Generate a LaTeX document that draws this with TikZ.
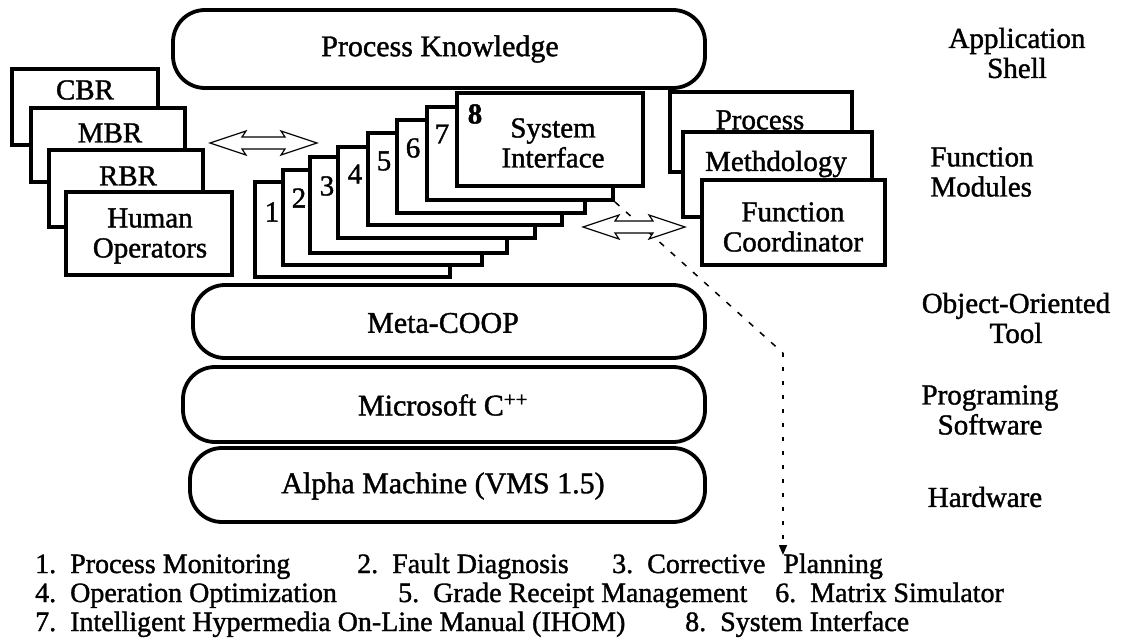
\documentclass[tikz,border=0pt]{standalone}
\usepackage{fontspec}
\setmainfont{Liberation Serif}[FakeBold=1.3]
\usetikzlibrary{fit,arrows.meta}
\tikzset{
  box/.style={draw, line width=3.8pt, fill=white, inner sep=0pt},
  pill/.style={draw, line width=3.8pt, rounded corners=32pt, inner sep=0pt},
  lbl/.style={inner sep=0pt, align=center, font=\fontsize{29}{30}\selectfont},
  plbl/.style={inner sep=0pt, align=center, font=\fontsize{30}{31}\selectfont},
  num/.style={inner sep=0pt, font=\fontsize{29}{30}\selectfont},
  leg/.style={inner sep=0pt, anchor=base west, font=\fontsize{28}{30}\selectfont},
  hollow/.style={draw, line width=1.2pt, fill=white},
  dashline/.style={line width=1.5pt, dash pattern=on 6pt off 9pt},
  dotline/.style={line width=1.5pt, dash pattern=on 4pt off 10pt},
}
\newcommand{\dblarrow}[3]{% x1, x2, y
  \draw[hollow] (#1,#3) -- ++(36,-12) -- ++(-4,6) -- (#2-32,#3-6) -- (#2-36,#3-12) -- (#2,#3)
    -- (#2-36,#3+12) -- (#2-32,#3+6) -- (#1+32,#3+6) -- (#1+36,#3+12) -- cycle;}
\begin{document}
\begin{tikzpicture}[x=1pt,y=-1pt]
\useasboundingbox (0,0) rectangle (1122,642);

% top application shell
\node[pill, fit={(173,10) (705,88)}] (pk) {};
\node[plbl] (pkt) at (440,49) {Process Knowledge};

% left stack
\node[box, fit={(12,69) (158,145)}] (cbr) {};
\node[lbl] (cbrt) at (85,90) {CBR};
\node[box, fit={(31,108) (185,182)}] (mbr) {};
\node[lbl] (mbrt) at (110,133) {MBR};
\node[box, fit={(49,150) (203,227)}] (rbr) {};
\node[lbl] (rbrt) at (128,176) {RBR};
\node[box, fit={(66,192) (232,275)}] (ho) {};
\node[lbl] (hot) at (150,236) {Human\\Operators};

% central stack of function modules
\node[box, fit={(255,182) (450,277)}] (b1) {};
\node[box, fit={(283,170) (482,265)}] (b2) {};
\node[box, fit={(310,157) (507,253)}] (b3) {};
\node[box, fit={(338,147) (535,238)}] (b4) {};
\node[box, fit={(368,133) (562,225)}] (b5) {};
\node[box, fit={(397,120) (585,213)}] (b6) {};
\node[box, fit={(427,107) (613,200)}] (b7) {};
\node[box, fit={(457,93) (643,186)}] (b8) {};
\node[num] (n1) at (272,212) {1};
\node[num] (n2) at (299,198) {2};
\node[num] (n3) at (327,186) {3};
\node[num] (n4) at (355,174) {4};
\node[num] (n5) at (384,161) {5};
\node[num] (n6) at (413,148) {6};
\node[num] (n7) at (442,134) {7};
\node[num, font=\bfseries\fontsize{29}{30}\selectfont] (n8) at (475,114) {8};
\node[lbl] (b8t) at (553,143) {System\\Interface};

% right stack
\node[box, fit={(670,92) (852,172)}] (pr) {};
\node[lbl] (prt) at (760,120) {Process};
\node[box, fit={(683,132) (872,217)}] (me) {};
\node[lbl] (met) at (776,164) {Methdology};
\node[box, fit={(702,180) (885,265)}] (fc) {};
\node[lbl] (fct) at (793,227) {Function\\Coordinator};

% lower layers
\node[pill, fit={(193,285) (705,358)}] (mc) {};
\node[plbl] (mct) at (443,323) {Meta-COOP};
\node[pill, fit={(183,367) (705,442)}] (ms) {};
\node[plbl] (mst) at (443,405) {Microsoft C\textsuperscript{++}};
\node[pill, fit={(190,448) (705,522)}] (am) {};
\node[plbl] (amt) at (443,486) {Alpha Machine (VMS 1.5)};

% right-hand layer titles
\node[lbl] (l1) at (1017,53) {Application\\Shell};
\node[lbl, align=left] (l2) at (982,172) {Function\\Modules};
\node[lbl] (l3) at (1016,318) {Object-Oriented\\Tool};
\node[lbl] (l4) at (990,410) {Programing\\Software};
\node[lbl] (l5) at (985,497) {Hardware};

% dashed pointer to the legend
\coordinate (bend) at (783,353);
\coordinate (tip) at (783,555);
\draw[dashline] (b7.south east) -- (bend);
\draw[dotline, -{Triangle[length=10pt,width=8pt]}] (bend) -- (tip);

% hollow double arrows
\dblarrow{210}{317}{143}
\dblarrow{583}{685}{227}

% legend
\node[leg] (g1) at (35,573) {1.\ \ Process Monitoring};
\node[leg] (g2) at (357,573) {2.\ \ Fault Diagnosis};
\node[leg] (g3) at (612,573) {3.\ \ Corrective\hspace{18pt}Planning};
\node[leg] (g4) at (35,602) {4.\ \ Operation Optimization};
\node[leg] (g5) at (398,602) {5.\ \ Grade Receipt Management};
\node[leg] (g6) at (775,602) {6.\ \ Matrix Simulator};
\node[leg] (g7) at (35,631) {7.\ \ Intelligent Hypermedia On-Line Manual (IHOM)};
\node[leg] (g8) at (685,631) {8.\ \ System Interface};
\end{tikzpicture}
\end{document}
